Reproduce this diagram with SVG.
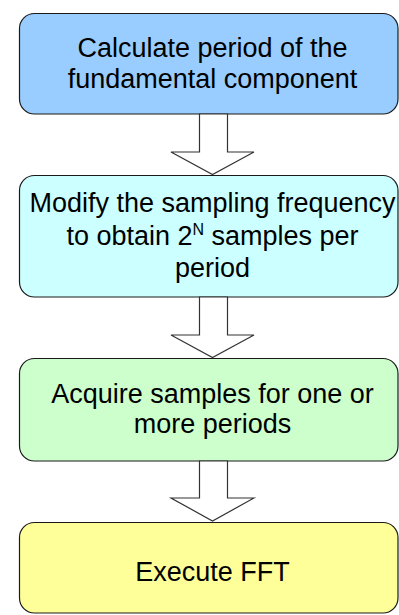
<svg xmlns="http://www.w3.org/2000/svg" width="399" height="615" viewBox="0 0 399 615">
<style>
.box{stroke:#1a1a1a;stroke-width:1.2}
.t{font-family:"Liberation Sans",Arial,sans-serif;font-size:27px;fill:#000;text-anchor:middle}
.arr{fill:#fff;stroke:#333;stroke-width:1.2;stroke-linejoin:miter}
</style>
<rect width="399" height="615" fill="#fff"/>
<g id="n1">
<rect class="box" x="19.5" y="13.5" width="378.5" height="100.5" rx="15" fill="#99CCFF"/>
<text class="t" x="212.5" y="57">Calculate period of the</text>
<text class="t" x="212.5" y="88">fundamental component</text>
</g>
<g id="n2">
<rect class="box" x="19.5" y="175.5" width="378.5" height="121.5" rx="15" fill="#CCFFFF"/>
<text class="t" x="212.5" y="212">Modify the sampling frequency</text>
<text class="t" x="212.5" y="245">to obtain 2<tspan font-size="16" dy="-10">N</tspan><tspan dy="10"> samples per</tspan></text>
<text class="t" x="212.5" y="277">period</text>
</g>
<g id="n3">
<rect class="box" x="19.5" y="358.5" width="378.5" height="102.5" rx="15" fill="#CCFFCC"/>
<text class="t" x="212.5" y="403">Acquire samples for one or</text>
<text class="t" x="212.5" y="433">more periods</text>
</g>
<g id="n4">
<rect class="box" x="19.5" y="522.5" width="378.5" height="90.5" rx="15" fill="#FFFF99"/>
<text class="t" x="212.5" y="581">Execute FFT</text>
</g>
<g id="connectors">
<polygon class="arr" points="199.5,114 227.5,114 227.5,152 254,152 212.5,174.5 171,152 199.5,152"/>
<polygon class="arr" points="199.5,297 227.5,297 227.5,335 254,335 212.5,357.5 171,335 199.5,335"/>
<polygon class="arr" points="199.5,461 227.5,461 227.5,498 254,498 212.5,521 171,498 199.5,498"/>
</g>
</svg>
